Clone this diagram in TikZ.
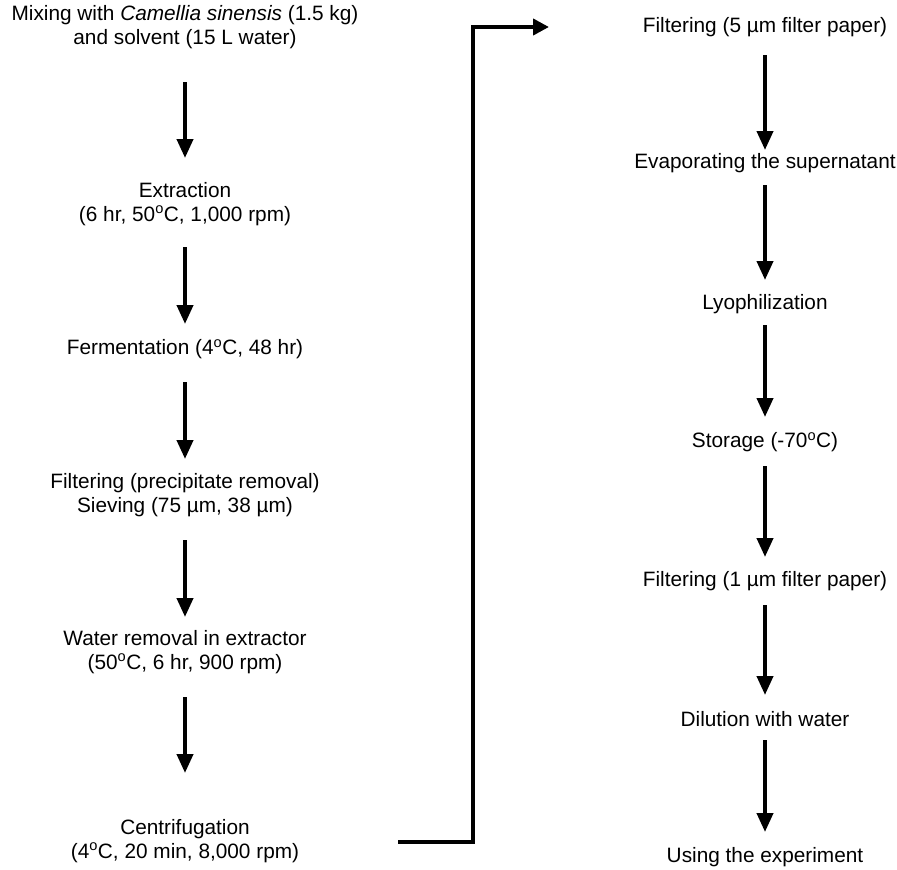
\documentclass[tikz,border=0pt]{standalone}
\usepackage{fontspec}
\setmainfont{Liberation Sans}
\usetikzlibrary{arrows.meta}
\newcommand{\dg}{\textsuperscript{o}}
\tikzset{
  stepbox/.style={inner sep=0pt, align=center, font=\fontsize{20.8}{24}\selectfont},
  flow/.style={line width=4pt, -{Triangle[width=16pt,length=19pt]}},
  conn/.style={line width=4.2pt, -{Triangle[width=16pt,length=16pt]}}
}
\begin{document}
\begin{tikzpicture}[x=1pt,y=-1pt]
\useasboundingbox (0,0) rectangle (897,870);
% left column
\node[stepbox] (n1) at (185,27) {Mixing with \textit{Camellia sinensis} (1.5 kg)\\and solvent (15 L water)};
\node[stepbox] (n2) at (185,204) {Extraction\\(6 hr, 50\dg C, 1,000 rpm)};
\node[stepbox] (n3) at (185,349) {Fermentation (4\dg C, 48 hr)};
\node[stepbox] (n4) at (185,495) {Filtering (precipitate removal)\\Sieving (75 µm, 38 µm)};
\node[stepbox] (n5) at (185,652) {Water removal in extractor\\(50\dg C, 6 hr, 900 rpm)};
\node[stepbox] (n6) at (185,841) {Centrifugation\\(4\dg C, 20 min, 8,000 rpm)};
% right column
\node[stepbox] (r1) at (765,27) {Filtering (5 µm filter paper)};
\node[stepbox] (r2) at (765,163) {Evaporating the supernatant};
\node[stepbox] (r3) at (765,304) {Lyophilization};
\node[stepbox] (r4) at (765,442) {Storage (-70\dg C)};
\node[stepbox] (r5) at (765,581) {Filtering (1 µm filter paper)};
\node[stepbox] (r6) at (765,719) {Dilution with water};
\node[stepbox] (r7) at (765,857) {Using the experiment};
% left arrows
\draw[flow, shorten <=55pt, shorten >=46pt] (n1.center) -- (n2.center);
\draw[flow, shorten <=43pt, shorten >=25pt] (n2.center) -- (n3.center);
\draw[flow, shorten <=33pt, shorten >=36pt] (n3.center) -- (n4.center);
\draw[flow, shorten <=45pt, shorten >=35pt] (n4.center) -- (n5.center);
\draw[flow, shorten <=45pt, shorten >=68pt] (n5.center) -- (n6.center);
% right arrows
\draw[flow, shorten <=28pt, shorten >=13pt] (r1.center) -- (r2.center);
\draw[flow, shorten <=22pt, shorten >=24pt] (r2.center) -- (r3.center);
\draw[flow, shorten <=21pt, shorten >=25pt] (r3.center) -- (r4.center);
\draw[flow, shorten <=24pt, shorten >=24pt] (r4.center) -- (r5.center);
\draw[flow, shorten <=24pt, shorten >=24pt] (r5.center) -- (r6.center);
\draw[flow, shorten <=21pt, shorten >=25pt] (r6.center) -- (r7.center);
% connector between columns
\coordinate (cs) at (398,842);
\coordinate (ce) at (549,27);
\draw[conn] (cs) -| (473,27) -- (ce);
\end{tikzpicture}
\end{document}
